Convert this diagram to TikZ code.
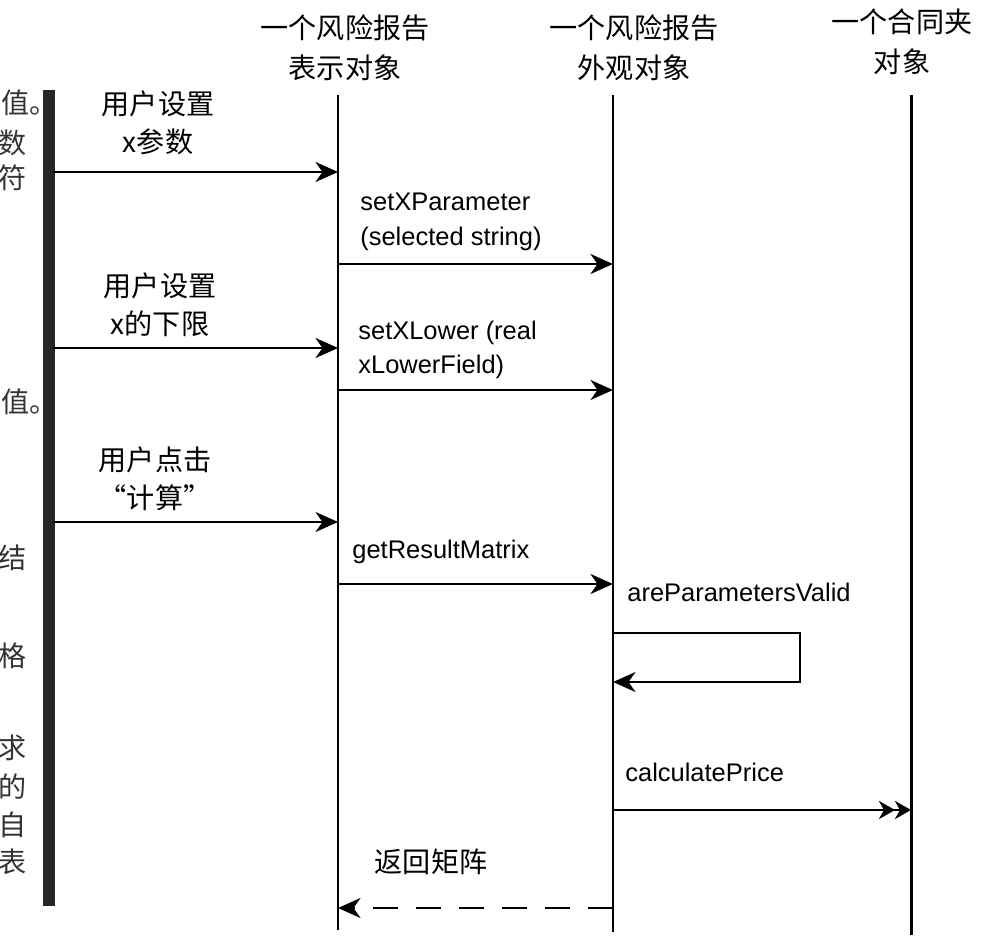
\documentclass[tikz,border=0pt]{standalone}
\usepackage{fontspec}
\setmainfont{Liberation Sans}
\newfontfamily\cjk{Noto Sans CJK SC}
\usetikzlibrary{positioning,shapes,arrows.meta,calc}

\tikzset{
    lifeline/.style={line width=1.7pt},
    userbar/.style={line width=6.8pt,black!85},
    msg/.style={line width=1.3pt,-{Stealth[length=4.5mm,width=4mm,inset=1.4mm]}},
    retmsg/.style={msg,dash pattern=on 5mm off 3.6mm},
    asyncmsg/.style={line width=1.3pt,-{Stealth[length=3.2mm,width=3.6mm,inset=1mm]Stealth[length=3.2mm,width=3.6mm,inset=1mm]}},
    objhead/.style={font=\cjk\fontsize{16}{22.7}\selectfont,align=center},
    cnlabel/.style={font=\cjk\fontsize{16}{21.5}\selectfont,align=center},
    enlabel/.style={font=\fontsize{14.5}{19.8}\selectfont,align=left,anchor=west,inner sep=0pt},
    margintxt/.style={font=\cjk\fontsize{16}{20}\selectfont,text=black!80,inner sep=0pt}
}

\begin{document}
\begin{tikzpicture}[x=0.02cm,y=-0.02cm]
    \fill[white] (0,0) rectangle (981,942);
    \useasboundingbox (0,0) rectangle (981,942);

    % text of the page at the left edge
    \node[margintxt,anchor=west] (m1) at (1,103) {值\makebox[0.3em][l]{。}};
    \node[margintxt,anchor=east] (m2) at (27,143) {数};
    \node[margintxt,anchor=east] (m3) at (27,178) {符};
    \node[margintxt,anchor=west] (m4) at (1,402) {值\makebox[0.3em][l]{。}};
    \node[margintxt,anchor=east] (m5) at (27,558) {结};
    \node[margintxt,anchor=east] (m6) at (27,656) {格};
    \node[margintxt,anchor=east] (m7) at (27,748) {求};
    \node[margintxt,anchor=east] (m8) at (27,787) {的};
    \node[margintxt,anchor=east] (m9) at (27,825) {自};
    \node[margintxt,anchor=east] (m10) at (27,862) {表};

    % objects
    \node[objhead] (pres) at (345,48) {一个风险报告\\表示对象};
    \node[objhead] (facade) at (634,48) {一个风险报告\\外观对象};
    \node[objhead] (folder) at (902,42) {一个合同夹\\对象};

    % lifelines
    \coordinate (userTop) at (49,90);   \coordinate (userBot) at (49,906);
    \coordinate (presTop) at (338,95);  \coordinate (presBot) at (338,930);
    \coordinate (facTop) at (613,95);   \coordinate (facBot) at (613,932);
    \coordinate (foldTop) at (911,95);  \coordinate (foldBot) at (911,935);
    \draw[userbar] (userTop) -- (userBot);
    \draw[lifeline] (presTop) -- (presBot);
    \draw[lifeline] (facTop) -- (facBot);
    \draw[lifeline] (foldTop) -- (foldBot);

    % message ends
    \coordinate (u1) at ($(userTop |- 0,172)+(4,0)$);  \coordinate (p1) at (presTop |- 0,172);
    \coordinate (p2) at (presTop |- 0,264);            \coordinate (f2) at (facTop |- 0,264);
    \coordinate (u3) at ($(userTop |- 0,348)+(4,0)$);  \coordinate (p3) at (presTop |- 0,348);
    \coordinate (p4) at (presTop |- 0,390);            \coordinate (f4) at (facTop |- 0,390);
    \coordinate (u5) at ($(userTop |- 0,522)+(4,0)$);  \coordinate (p5) at (presTop |- 0,522);
    \coordinate (p6) at (presTop |- 0,584);            \coordinate (f6) at (facTop |- 0,584);
    \coordinate (f7) at (facTop |- 0,633);             \coordinate (loopEnd) at (800,682);
    \coordinate (f7b) at (facTop |- 0,682);
    \coordinate (f8) at (facTop |- 0,810);             \coordinate (c8) at (foldTop |- 0,810);
    \coordinate (f9) at (facTop |- 0,908);             \coordinate (p9) at (presTop |- 0,908);

    % labels
    \node[cnlabel] (set x) at (158,123) {用户设置\\x参数};
    \node[enlabel] (setXPar) at (360,222) {setXParameter\\(selected string)};
    \node[cnlabel] (set low) at (160,305) {用户设置\\x的下限};
    \node[enlabel] (setXLow) at (358,350) {setXLower (real\\xLowerField)};
    \node[cnlabel] (click) at (155,479) {用户点击\\“计算”};
    \node[enlabel] (getRes) at (352,552) {getResultMatrix};
    \node[enlabel] (valid) at (627,592) {areParametersValid};
    \node[enlabel] (calc) at (625,772) {calculatePrice};
    \node[cnlabel] (ret) at (431,862) {返回矩阵};

    % messages
    \draw[msg] (u1) -- (p1);
    \draw[msg] (p2) -- (f2);
    \draw[msg] (u3) -- (p3);
    \draw[msg] (p4) -- (f4);
    \draw[msg] (u5) -- (p5);
    \draw[msg] (p6) -- (f6);
    \draw[msg] (f7) -| (loopEnd) -- (f7b);
    \draw[asyncmsg] (f8) -- (c8);
    \draw[retmsg] (f9) -- (p9);
\end{tikzpicture}
\end{document}
